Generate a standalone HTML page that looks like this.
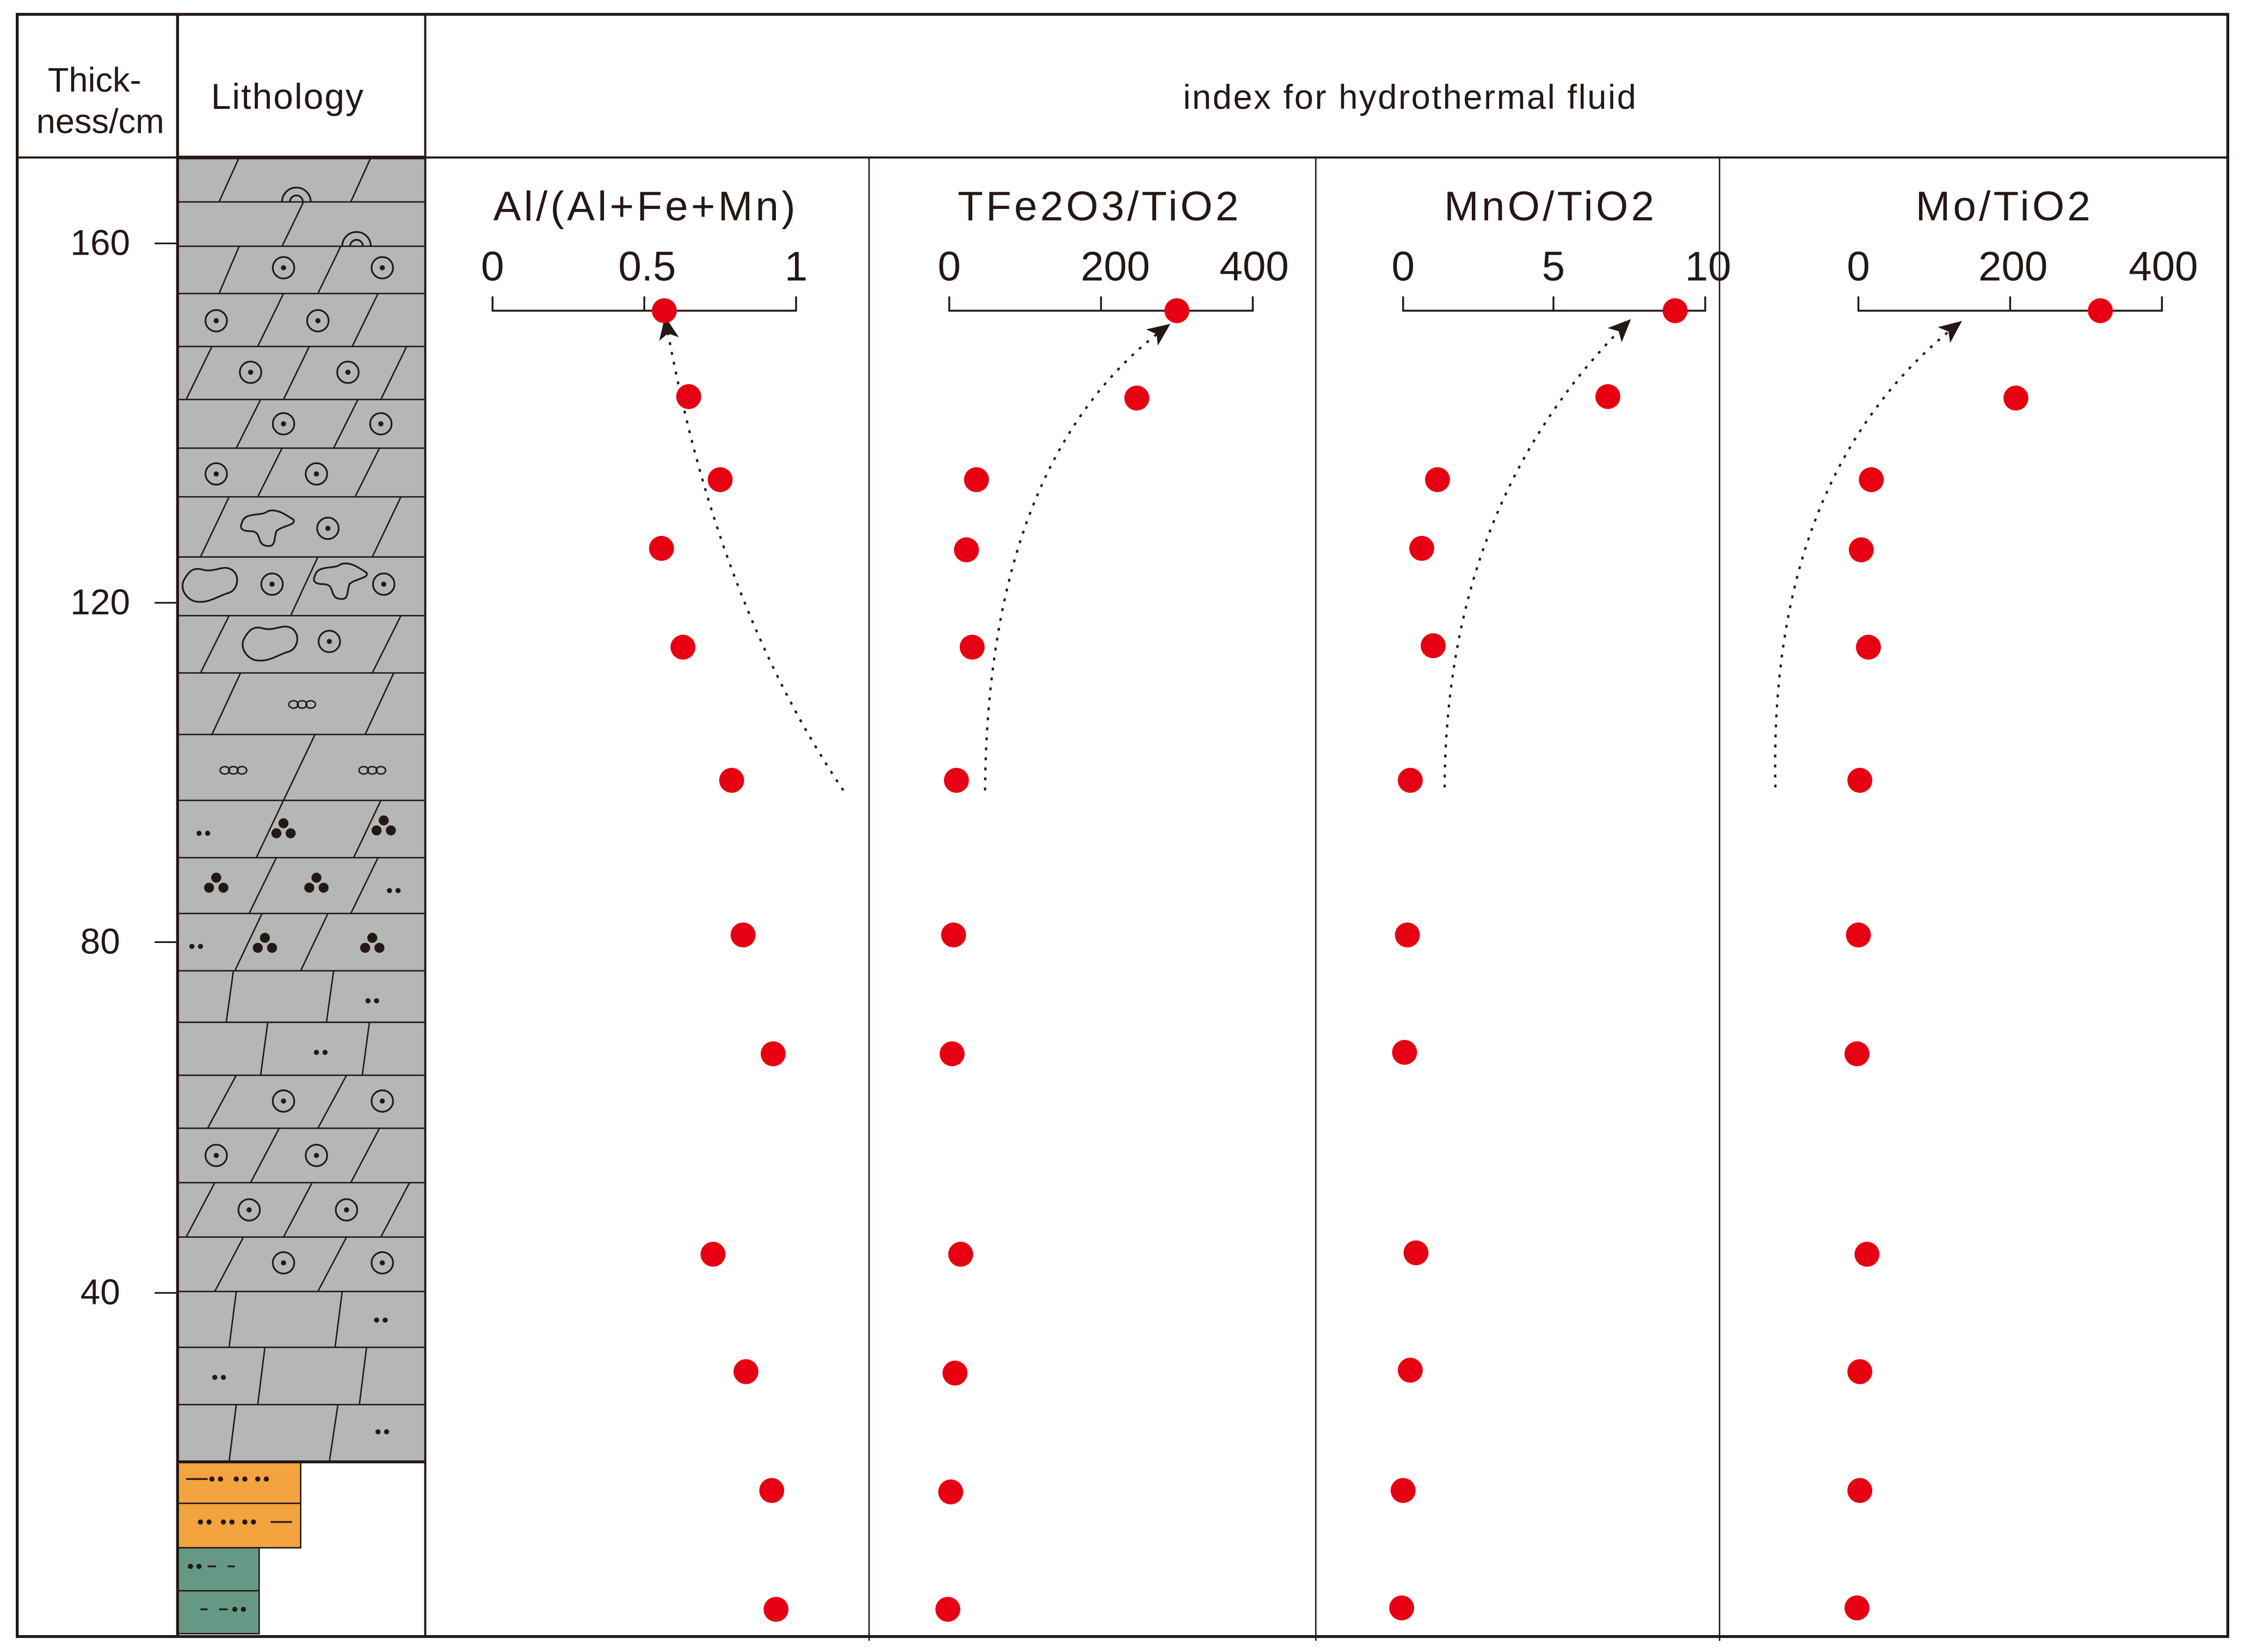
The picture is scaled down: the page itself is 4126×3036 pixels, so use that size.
<!DOCTYPE html>
<html><head><meta charset="utf-8"><style>
html,body{margin:0;padding:0;background:#fff;}
svg{display:block;}
text{font-family:"Liberation Sans",Arial,sans-serif;fill:#231815;}
</style></head><body>
<svg width="4126" height="3036" viewBox="0 0 1568 1153.8" xmlns="http://www.w3.org/2000/svg">
<defs>
<g id="cd"><ellipse cx="0" cy="0" rx="7.5" ry="7.5" fill="none" stroke="#231815" stroke-width="1.2"/><circle r="1.8" fill="#231815"/></g>
<g id="tri"><circle cx="0" cy="-5" r="3.5" fill="#231815"/><circle cx="-5" cy="2" r="3.5" fill="#231815"/><circle cx="5" cy="2" r="3.5" fill="#231815"/></g>
<g id="ooo" fill="none" stroke="#231815" stroke-width="1"><ellipse cx="-6" cy="0" rx="3.3" ry="2.6"/><ellipse cx="0" cy="0" rx="3.3" ry="2.6"/><ellipse cx="6" cy="0" rx="3.3" ry="2.6"/></g>
<g id="dd"><circle cx="-3" r="1.8" fill="#231815"/><circle cx="3" r="1.8" fill="#231815"/></g>
<g id="arc" fill="none" stroke="#231815" stroke-width="1.2"><path d="M-10 0 A10 10 0 0 1 10 0"/><path d="M-4.5 0 A4.5 4.5 0 0 1 4.5 0"/></g>
<g id="blob1" fill="none" stroke="#231815" stroke-width="1.2"><path d="M-18 -4 C-16 -12 -4 -8 0 -12 C6 -14 12 -10 18 -6 C20 -2 10 -2 6 2 C4 8 6 14 -2 12 C-8 10 -4 2 -12 2 C-18 2 -20 0 -18 -4Z"/></g>
<g id="blob2" fill="none" stroke="#231815" stroke-width="1.2"><path d="M-20 -2 C-16 -10 -12 -12 -6 -10 C2 -8 8 -14 14 -10 C20 -6 18 4 12 6 C4 8 -2 14 -12 12 C-18 10 -22 4 -20 -2Z"/></g>
<marker id="ah" markerWidth="16" markerHeight="14" refX="13" refY="7" orient="auto" markerUnits="userSpaceOnUse"><path d="M0 0 L16 7 L0 14 L4 7Z" fill="#231815"/></marker>
</defs>

<rect x="124" y="110" width="173" height="911" fill="#b5b6b6"/>
<rect x="124" y="1021" width="86" height="60" fill="#f3a43f" stroke="#231815" stroke-width="1"/>
<line x1="124" y1="1050" x2="210" y2="1050" stroke="#231815" stroke-width="1"/>
<rect x="124" y="1081" width="57" height="60" fill="#669985" stroke="#231815" stroke-width="1"/>
<line x1="124" y1="1111" x2="181" y2="1111" stroke="#231815" stroke-width="1"/>

<g stroke="#231815" stroke-width="1">
<line x1="124" y1="141" x2="297" y2="141"/><line x1="124" y1="172" x2="297" y2="172"/>
<line x1="124" y1="205" x2="297" y2="205"/><line x1="124" y1="242" x2="297" y2="242"/>
<line x1="124" y1="279" x2="297" y2="279"/><line x1="124" y1="313" x2="297" y2="313"/>
<line x1="124" y1="347" x2="297" y2="347"/><line x1="124" y1="389" x2="297" y2="389"/>
<line x1="124" y1="430" x2="297" y2="430"/><line x1="124" y1="470" x2="297" y2="470"/>
<line x1="124" y1="513" x2="297" y2="513"/><line x1="124" y1="559" x2="297" y2="559"/>
<line x1="124" y1="599" x2="297" y2="599"/><line x1="124" y1="638" x2="297" y2="638"/>
<line x1="124" y1="678" x2="297" y2="678"/><line x1="124" y1="714" x2="297" y2="714"/>
<line x1="124" y1="751" x2="297" y2="751"/><line x1="124" y1="788" x2="297" y2="788"/>
<line x1="124" y1="826" x2="297" y2="826"/><line x1="124" y1="864" x2="297" y2="864"/>
<line x1="124" y1="902" x2="297" y2="902"/><line x1="124" y1="941" x2="297" y2="941"/>
<line x1="124" y1="981" x2="297" y2="981"/>
<line x1="153" y1="141" x2="167" y2="110"/><line x1="245" y1="141" x2="259" y2="110"/>
<line x1="197" y1="172" x2="212" y2="141"/>
<line x1="153" y1="205" x2="167" y2="172"/><line x1="222" y1="205" x2="238" y2="172"/>
<line x1="180" y1="242" x2="198" y2="205"/><line x1="246" y1="242" x2="264" y2="205"/>
<line x1="130" y1="279" x2="148" y2="242"/><line x1="198" y1="279" x2="216" y2="242"/><line x1="266" y1="279" x2="284" y2="242"/>
<line x1="165" y1="313" x2="182" y2="279"/><line x1="233" y1="313" x2="250" y2="279"/>
<line x1="180" y1="347" x2="197" y2="313"/><line x1="248" y1="347" x2="265" y2="313"/>
<line x1="140" y1="389" x2="160" y2="347"/><line x1="260" y1="389" x2="280" y2="347"/>
<line x1="203" y1="430" x2="222" y2="389"/>
<line x1="140" y1="470" x2="160" y2="430"/><line x1="260" y1="470" x2="280" y2="430"/>
<line x1="148" y1="513" x2="168" y2="470"/><line x1="255" y1="513" x2="275" y2="470"/>
<line x1="198" y1="559" x2="220" y2="513"/>
<line x1="179" y1="599" x2="198" y2="559"/><line x1="247" y1="599" x2="266" y2="559"/>
<line x1="174" y1="638" x2="193" y2="599"/><line x1="245" y1="638" x2="264" y2="599"/>
<line x1="164" y1="678" x2="183" y2="638"/><line x1="210" y1="678" x2="229" y2="638"/>
<line x1="158" y1="714" x2="163" y2="678"/><line x1="228" y1="714" x2="233" y2="678"/>
<line x1="182" y1="751" x2="187" y2="714"/><line x1="253" y1="751" x2="258" y2="714"/>
<line x1="145" y1="788" x2="165" y2="751"/><line x1="222" y1="788" x2="242" y2="751"/>
<line x1="175" y1="826" x2="195" y2="788"/><line x1="245" y1="826" x2="265" y2="788"/>
<line x1="130" y1="864" x2="150" y2="826"/><line x1="198" y1="864" x2="218" y2="826"/><line x1="266" y1="864" x2="286" y2="826"/>
<line x1="150" y1="902" x2="170" y2="864"/><line x1="222" y1="902" x2="242" y2="864"/>
<line x1="160" y1="941" x2="165" y2="902"/><line x1="234" y1="941" x2="239" y2="902"/>
<line x1="180" y1="981" x2="185" y2="941"/><line x1="251" y1="981" x2="256" y2="941"/>
<line x1="160" y1="1021" x2="165" y2="981"/><line x1="230" y1="1021" x2="236" y2="981"/>
</g>
<use href="#arc" x="207" y="141"/><use href="#arc" x="249" y="172"/>
<use href="#cd" x="198" y="187"/><use href="#cd" x="267" y="187"/>
<use href="#cd" x="151" y="224"/><use href="#cd" x="222" y="224"/>
<use href="#cd" x="175" y="260"/><use href="#cd" x="243" y="260"/>
<use href="#cd" x="198" y="296"/><use href="#cd" x="266" y="296"/>
<use href="#cd" x="151" y="331"/><use href="#cd" x="221" y="331"/>
<use href="#blob1" x="187" y="369"/><use href="#cd" x="229" y="369"/>
<use href="#blob2" x="148" y="408"/><use href="#cd" x="190" y="408"/><use href="#blob1" x="238" y="406"/><use href="#cd" x="268" y="408"/>
<use href="#blob2" x="190" y="449"/><use href="#cd" x="230" y="448"/>
<use href="#ooo" x="211" y="492"/>
<use href="#ooo" x="163" y="538"/><use href="#ooo" x="260" y="538"/>
<use href="#dd" x="142" y="582"/><use href="#tri" x="198" y="580"/><use href="#tri" x="268" y="578"/>
<use href="#tri" x="151" y="618"/><use href="#tri" x="221" y="618"/><use href="#dd" x="275" y="622"/>
<use href="#dd" x="137" y="661"/><use href="#tri" x="185" y="660"/><use href="#tri" x="260" y="660"/>
<use href="#dd" x="260" y="699"/><use href="#dd" x="224" y="735"/>
<use href="#cd" x="198" y="769"/><use href="#cd" x="267" y="769"/>
<use href="#cd" x="151" y="807"/><use href="#cd" x="221" y="807"/>
<use href="#cd" x="174" y="845"/><use href="#cd" x="242" y="845"/>
<use href="#cd" x="198" y="882"/><use href="#cd" x="267" y="882"/>
<use href="#dd" x="266" y="922"/><use href="#dd" x="153" y="962"/><use href="#dd" x="267" y="1000"/>
<g stroke="#231815" stroke-width="1.2">
<line x1="130" y1="1033" x2="145" y2="1033"/><line x1="189" y1="1063" x2="204" y2="1063"/>
<line x1="145" y1="1094" x2="151" y2="1094"/><line x1="159" y1="1094" x2="164" y2="1094"/>
<line x1="140" y1="1124" x2="145" y2="1124"/><line x1="153" y1="1124" x2="159" y2="1124"/>
</g>
<use href="#dd" x="151" y="1033"/><use href="#dd" x="168" y="1033"/><use href="#dd" x="183" y="1033"/>
<use href="#dd" x="143" y="1063"/><use href="#dd" x="159" y="1063"/><use href="#dd" x="174" y="1063"/>
<use href="#dd" x="136" y="1094"/><use href="#dd" x="167" y="1124"/>

<g stroke="#231815" fill="none">
<rect x="12" y="10" width="1544" height="1133" stroke-width="2"/>
<line x1="12" y1="110" x2="1556" y2="110" stroke-width="1.5"/>
<line x1="124" y1="10" x2="124" y2="1143" stroke-width="2"/>
<line x1="297" y1="10" x2="297" y2="1143" stroke-width="1.5"/>
<line x1="124" y1="110" x2="297" y2="110" stroke-width="2.5"/>
<line x1="124" y1="1021" x2="297" y2="1021" stroke-width="2"/>
<line x1="607" y1="110" x2="607" y2="1146" stroke-width="1"/>
<line x1="919" y1="110" x2="919" y2="1146" stroke-width="1"/>
<line x1="1201" y1="110" x2="1201" y2="1146" stroke-width="1"/>
<line x1="108" y1="170" x2="124" y2="170" stroke-width="1.2"/>
<line x1="108" y1="421" x2="124" y2="421" stroke-width="1.2"/>
<line x1="108" y1="658" x2="124" y2="658" stroke-width="1.2"/>
<line x1="108" y1="903" x2="124" y2="903" stroke-width="1.2"/>
</g>

<text x="66" y="64" font-size="24" text-anchor="middle">Thick-</text>
<text x="70" y="93" font-size="24" text-anchor="middle">ness/cm</text>
<text x="201" y="76" font-size="25" text-anchor="middle" letter-spacing="0.8">Lithology</text>
<text x="985" y="76" font-size="24" text-anchor="middle" letter-spacing="1">index for hydrothermal fluid</text>
<text x="70" y="178" font-size="25" text-anchor="middle">160</text>
<text x="70" y="429" font-size="25" text-anchor="middle">120</text>
<text x="70" y="666" font-size="25" text-anchor="middle">80</text>
<text x="70" y="911" font-size="25" text-anchor="middle">40</text>

<g font-size="29" text-anchor="middle" letter-spacing="2">
<text x="451" y="154">Al/(Al+Fe+Mn)</text>
<text x="768" y="154">TFe2O3/TiO2</text>
<text x="1083" y="154">MnO/TiO2</text>
<text x="1400" y="154">Mo/TiO2</text>
</g>
<g font-size="29" text-anchor="middle">
<text x="344" y="196">0</text><text x="452" y="196">0.5</text><text x="556" y="196">1</text>
<text x="663" y="196">0</text><text x="779" y="196">200</text><text x="876" y="196">400</text>
<text x="980" y="196">0</text><text x="1085" y="196">5</text><text x="1193" y="196">10</text>
<text x="1298" y="196">0</text><text x="1406" y="196">200</text><text x="1511" y="196">400</text>
</g>
<g stroke="#231815" stroke-width="1.3" fill="none">
<path d="M344 207 V217 H556 V207 M450 207 V217"/>
<path d="M663 207 V217 H875 V207 M769 207 V217"/>
<path d="M980 207 V217 H1191 V207 M1085 207 V217"/>
<path d="M1298 207 V217 H1510 V207 M1404 207 V217"/>
</g>

<g stroke="#231815" stroke-width="1.6" fill="none" stroke-dasharray="2 5" marker-end="url(#ah)">
<path d="M589 552 Q500 420 465 224"/>
<path d="M688 552 Q690 320 815 228"/>
<path d="M1009 550 Q1010 350 1137 225"/>
<path d="M1240 550 Q1235 330 1368 226"/>
</g>

<g fill="#e60012">
<circle cx="464" cy="217" r="8.7"/><circle cx="481" cy="277" r="8.7"/><circle cx="503" cy="335" r="8.7"/><circle cx="462" cy="383" r="8.7"/><circle cx="477" cy="452" r="8.7"/><circle cx="511" cy="545" r="8.7"/><circle cx="519" cy="653" r="8.7"/><circle cx="540" cy="736" r="8.7"/><circle cx="498" cy="876" r="8.7"/><circle cx="521" cy="958" r="8.7"/><circle cx="539" cy="1041" r="8.7"/><circle cx="542" cy="1124" r="8.7"/>
<circle cx="822" cy="217" r="8.7"/><circle cx="794" cy="278" r="8.7"/><circle cx="682" cy="335" r="8.7"/><circle cx="675" cy="384" r="8.7"/><circle cx="679" cy="452" r="8.7"/><circle cx="668" cy="545" r="8.7"/><circle cx="666" cy="653" r="8.7"/><circle cx="665" cy="736" r="8.7"/><circle cx="671" cy="876" r="8.7"/><circle cx="667" cy="959" r="8.7"/><circle cx="664" cy="1042" r="8.7"/><circle cx="662" cy="1124" r="8.7"/>
<circle cx="1170" cy="217" r="8.7"/><circle cx="1123" cy="277" r="8.7"/><circle cx="1004" cy="335" r="8.7"/><circle cx="993" cy="383" r="8.7"/><circle cx="1001" cy="451" r="8.7"/><circle cx="985" cy="545" r="8.7"/><circle cx="983" cy="653" r="8.7"/><circle cx="981" cy="735" r="8.7"/><circle cx="989" cy="875" r="8.7"/><circle cx="985" cy="957" r="8.7"/><circle cx="980" cy="1041" r="8.7"/><circle cx="979" cy="1123" r="8.7"/>
<circle cx="1467" cy="217" r="8.7"/><circle cx="1408" cy="278" r="8.7"/><circle cx="1307" cy="335" r="8.7"/><circle cx="1300" cy="384" r="8.7"/><circle cx="1305" cy="452" r="8.7"/><circle cx="1299" cy="545" r="8.7"/><circle cx="1298" cy="653" r="8.7"/><circle cx="1297" cy="736" r="8.7"/><circle cx="1304" cy="876" r="8.7"/><circle cx="1299" cy="958" r="8.7"/><circle cx="1299" cy="1041" r="8.7"/><circle cx="1297" cy="1123" r="8.7"/>
</g>
</svg>
</body></html>
